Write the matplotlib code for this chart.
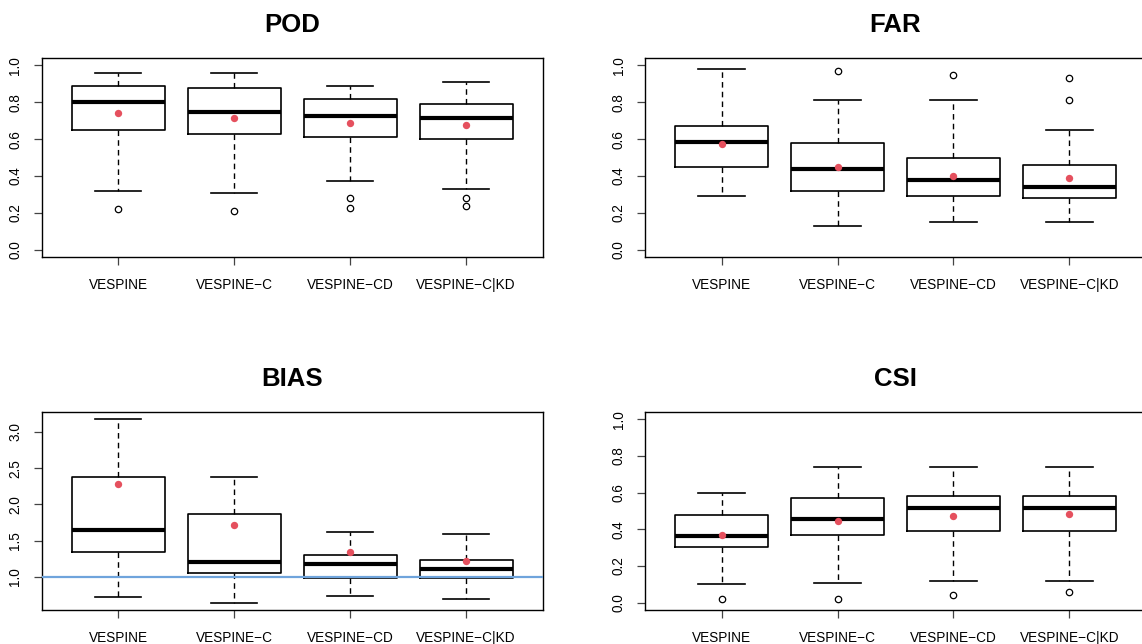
import matplotlib
matplotlib.use("Agg")
import matplotlib.pyplot as plt

plt.rcParams['font.family'] = ['Liberation Sans', 'DejaVu Sans']

categories = ["VESPINE", "VESPINE\u2212C", "VESPINE\u2212CD", "VESPINE\u2212C|KD"]

# Per-panel summary statistics
pod_whislo = [0.319, 0.308, 0.370, 0.330]
pod_q1     = [0.650, 0.630, 0.610, 0.601]
pod_med    = [0.800, 0.748, 0.725, 0.716]
pod_q3     = [0.888, 0.879, 0.819, 0.790]
pod_whishi = [0.960, 0.960, 0.889, 0.909]
pod_fliers = [[0.219], [0.208], [0.281, 0.228], [0.281, 0.239]]
pod_mean   = [0.739, 0.717, 0.685, 0.679]

far_whislo = [0.290, 0.129, 0.150, 0.150]
far_q1     = [0.449, 0.319, 0.292, 0.279]
far_med    = [0.585, 0.440, 0.380, 0.341]
far_q3     = [0.670, 0.578, 0.500, 0.458]
far_whishi = [0.980, 0.810, 0.810, 0.650]
far_fliers = [[], [0.969], [0.949], [0.929, 0.810]]
far_mean   = [0.571, 0.451, 0.402, 0.388]

bias_whislo = [0.720, 0.642, 0.734, 0.697]
bias_q1     = [1.335, 1.055, 0.982, 0.982]
bias_med    = [1.651, 1.197, 1.174, 1.106]
bias_q3     = [2.372, 1.862, 1.307, 1.229]
bias_whishi = [3.174, 2.376, 1.619, 1.587]
bias_fliers = [[], [], [], []]
bias_mean   = [2.280, 1.716, 1.335, 1.220]

csi_whislo = [0.100, 0.109, 0.120, 0.120]
csi_q1     = [0.301, 0.371, 0.389, 0.389]
csi_med    = [0.366, 0.455, 0.516, 0.516]
csi_q3     = [0.480, 0.571, 0.580, 0.580]
csi_whishi = [0.600, 0.739, 0.739, 0.739]
csi_fliers = [[0.020], [0.020], [0.040], [0.060]]
csi_mean   = [0.371, 0.446, 0.473, 0.484]

W, H = 1142, 644
fig = plt.figure(figsize=(W / 100, H / 100), dpi=100)

def frac(x0, y0, x1, y1):
    return [x0 / W, 1 - y1 / H, (x1 - x0) / W, (y1 - y0) / H]

panels = [
    ("POD", frac(41.7, 58, 542.7, 257), pod_whislo, pod_q1, pod_med, pod_q3, pod_whishi, pod_fliers, pod_mean, (-0.04, 1.04), [0.0, 0.2, 0.4, 0.6, 0.8, 1.0], False),
    ("FAR", frac(645, 58, 1146, 257), far_whislo, far_q1, far_med, far_q3, far_whishi, far_fliers, far_mean, (-0.04, 1.04), [0.0, 0.2, 0.4, 0.6, 0.8, 1.0], False),
    ("BIAS", frac(41.7, 412, 542.7, 610), bias_whislo, bias_q1, bias_med, bias_q3, bias_whishi, bias_fliers, bias_mean, (0.541, 3.275), [1.0, 1.5, 2.0, 2.5, 3.0], True),
    ("CSI", frac(645, 412, 1146, 610), csi_whislo, csi_q1, csi_med, csi_q3, csi_whishi, csi_fliers, csi_mean, (-0.04, 1.04), [0.0, 0.2, 0.4, 0.6, 0.8, 1.0], False),
]

for title, rect, wlo, q1, med, q3, whi, fl, mn, ylim, yt, refline in panels:
    ax = fig.add_axes(rect)
    stats = []
    for i in range(len(categories)):
        stats.append(dict(whislo=wlo[i], q1=q1[i], med=med[i], q3=q3[i],
                          whishi=whi[i], fliers=fl[i], label=categories[i]))
    pos = list(range(1, len(categories) + 1))
    ax.bxp(stats, positions=pos, widths=0.8, capwidths=0.4, showfliers=True,
           boxprops=dict(color='black', linewidth=1.2),
           whiskerprops=dict(color='black', linewidth=1.0, linestyle=(0, (4, 3))),
           capprops=dict(color='black', linewidth=1.2),
           medianprops=dict(color='black', linewidth=3.0, solid_capstyle='butt'),
           flierprops=dict(marker='o', markerfacecolor='none', markeredgecolor='black',
                           markersize=4.6, markeredgewidth=0.9))
    if refline:
        ax.axhline(1.0, color='#6fa4dc', linewidth=1.6, zorder=5)
    ax.plot(pos, mn, 'o', color='#E5505E', markersize=5.3, markeredgewidth=0, zorder=6)
    ax.set_xlim(0.34, 4.66)
    ax.set_ylim(*ylim)
    ax.set_yticks(yt)
    ax.set_yticklabels([f"{v:.1f}" for v in yt], rotation=90, va='center', fontsize=9.8)
    ax.set_xticks(pos)
    ax.set_xticklabels(categories, fontsize=9.8)
    ax.tick_params(axis='both', direction='out', length=6, width=0.9, color='#444444')
    ax.tick_params(axis='x', pad=9)
    ax.tick_params(axis='y', pad=8)
    for s in ax.spines.values():
        s.set_linewidth(1.0)
        s.set_color('black')
    ax.set_title(title, fontsize=18.5, fontweight='bold', pad=19)

fig.savefig("out.png", dpi=100)
